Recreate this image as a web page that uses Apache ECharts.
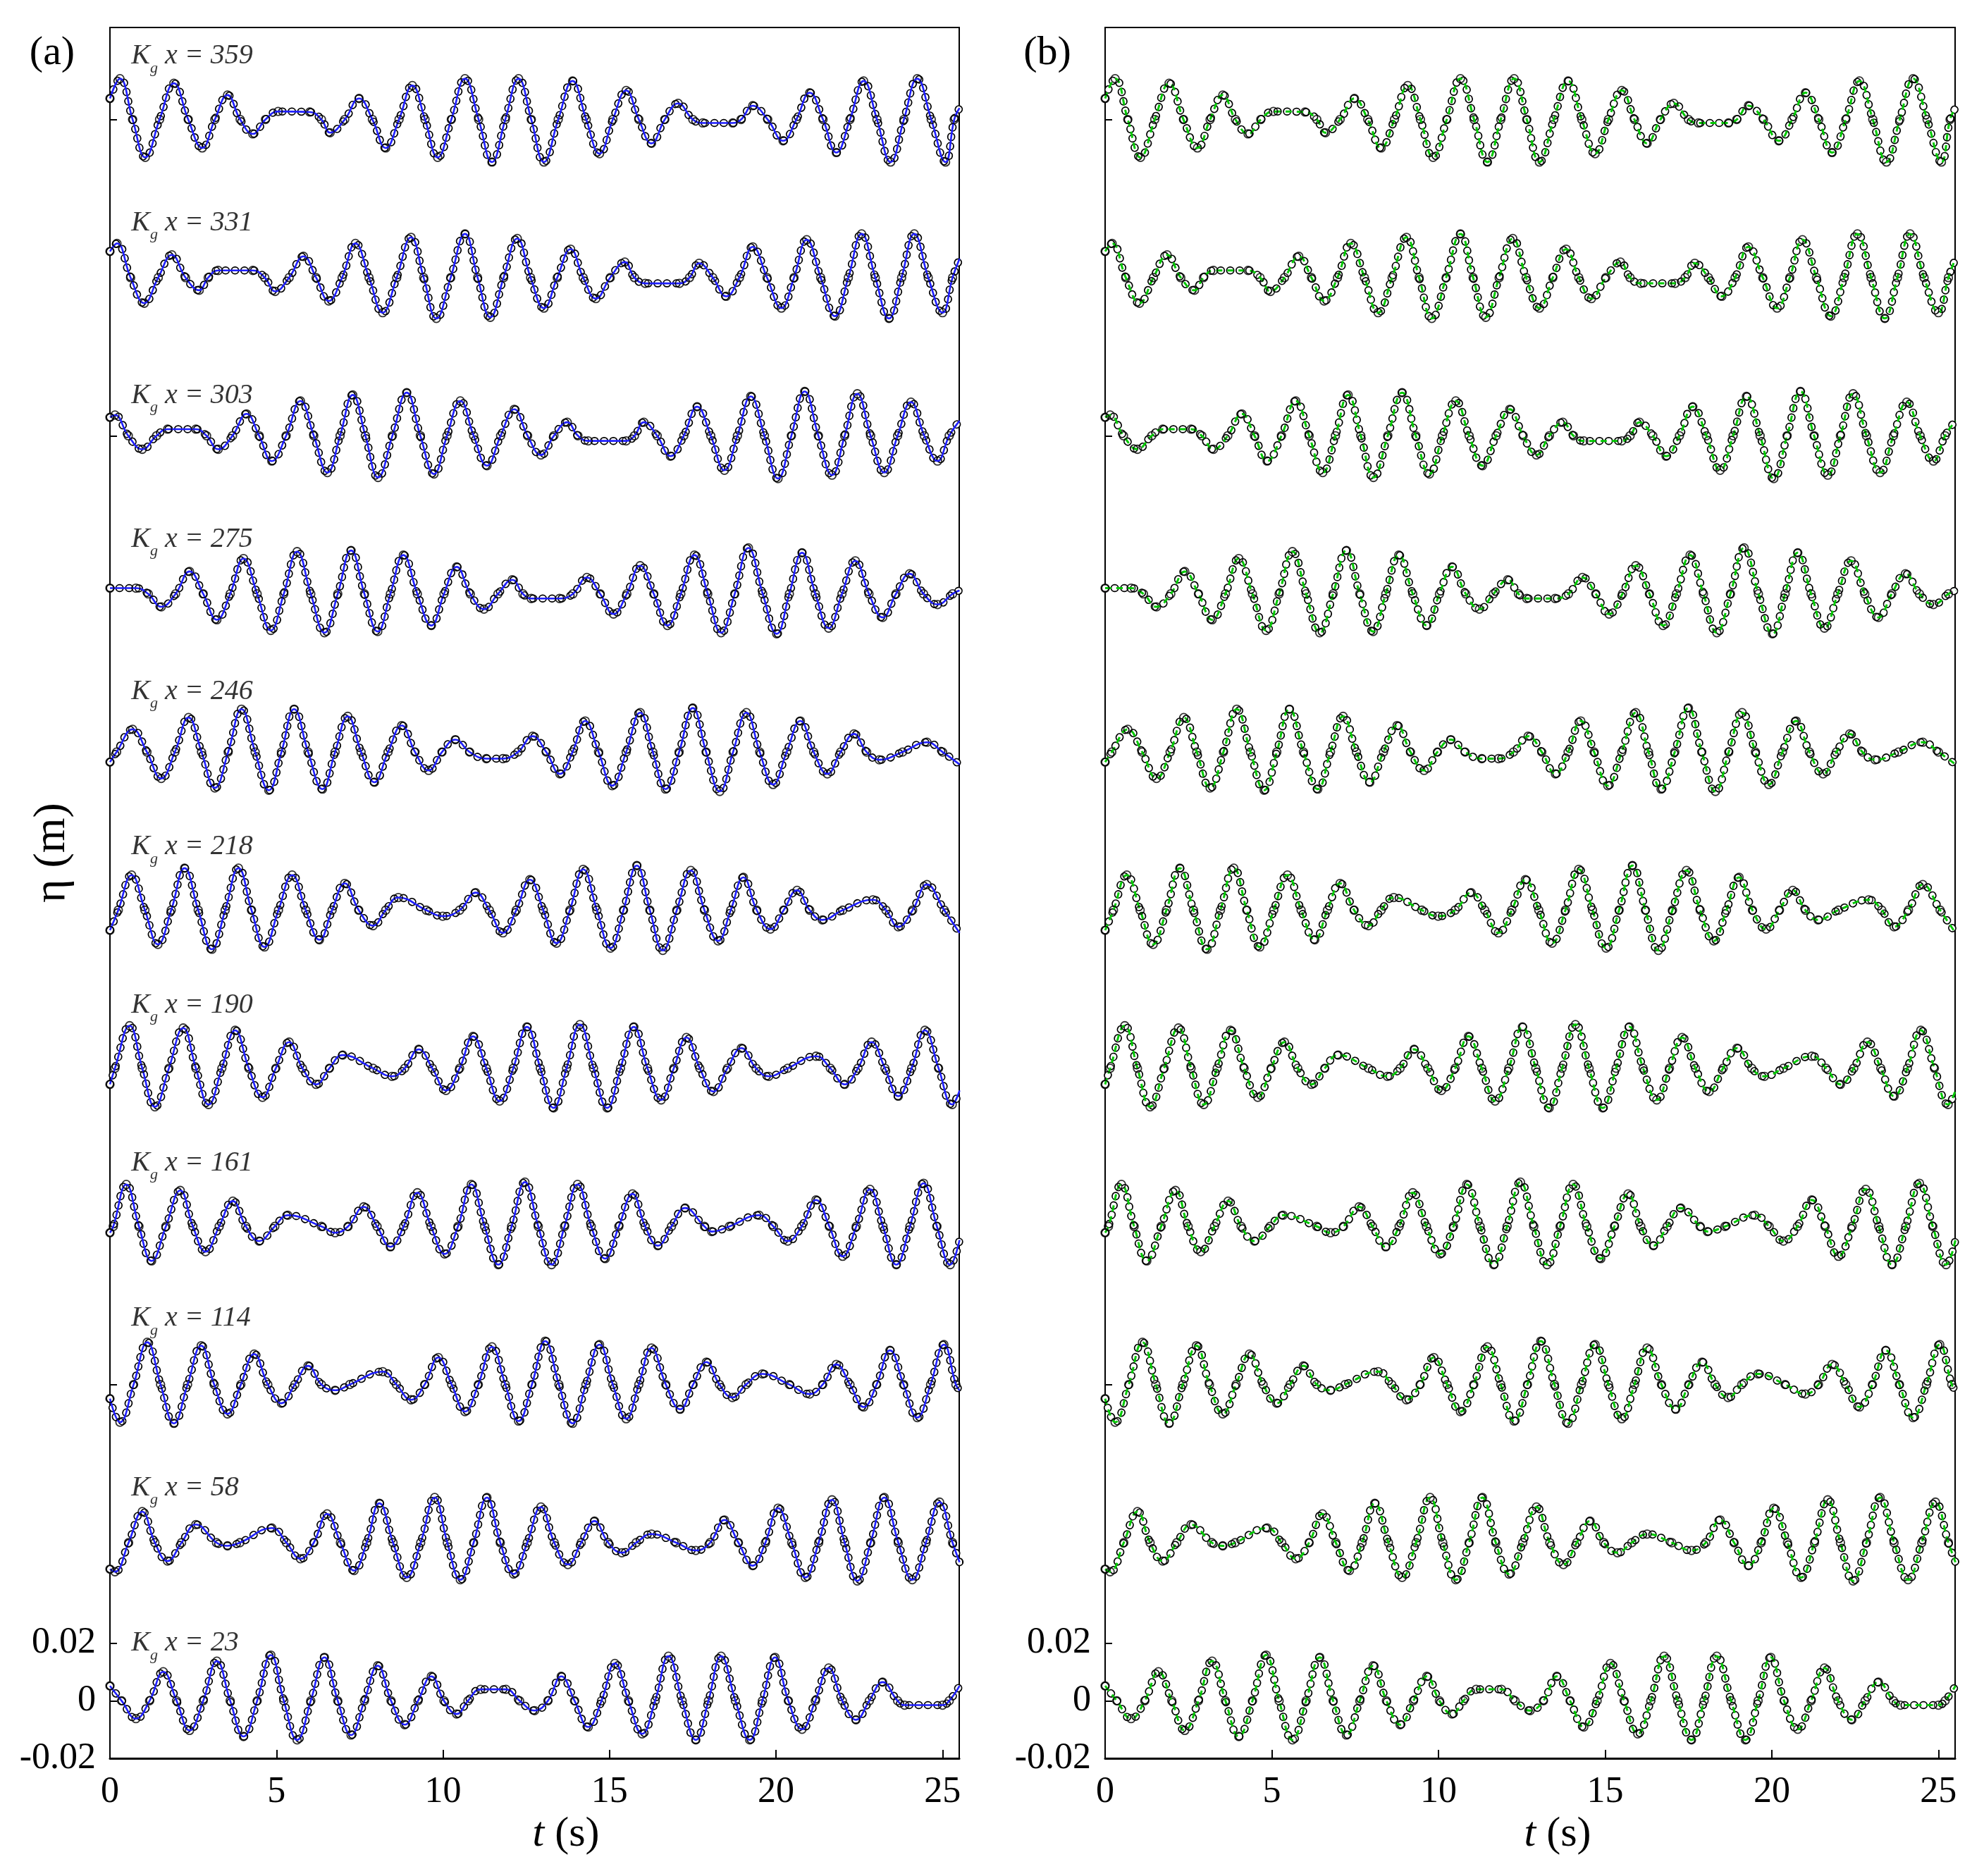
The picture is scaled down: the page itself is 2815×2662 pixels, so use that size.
<!DOCTYPE html>
<html>
<head>
<meta charset="utf-8">
<script src="https://cdn.jsdelivr.net/npm/echarts@6/dist/echarts.min.js"></script>
<style>
html,body{margin:0;padding:0;background:#fff;}
#c{width:2815px;height:2662px;}
</style>
</head>
<body>
<div id="c"></div>
<script>
// ---- data (surface elevation, mm) ----
const stations = [359, 331, 303, 275, 246, 218, 190, 161, 114, 58, 23];
const offsets  = [0.55, 0.495, 0.44, 0.385, 0.33, 0.275, 0.22, 0.165, 0.11, 0.055, 0];
const labelY   = [0.572, 0.514, 0.454, 0.404, 0.351, 0.297, 0.242, 0.187, 0.133, 0.074, 0.020];
const labelT   = 0.64;
const xTicks   = [0, 5, 10, 15, 20, 25];
const yLabels  = [-0.02, 0, 0.02];
const yTicks   = [-0.02, 0, 0.02, 0.11, 0.44, 0.55];

// extrema [t (s), eta (mm)]
const ext359 = [[0,7.3],[0.30,14.2],[1.06,-13.2],[1.92,12.6],[2.77,-9.9],[3.53,8.5],[4.29,-5.0],[5.05,2.8],[6.0,2.6],[6.61,-4.6],[7.48,7.3],[8.28,-9.9],[9.08,11.8],[9.84,-13.2],[10.66,14.2],[11.47,-14.8],[12.27,14.2],[13.03,-14.8],[13.89,13.4],[14.70,-11.9],[15.50,10.1],[16.26,-8.3],[17.06,5.6],[17.8,-1.2],[18.7,-1.2],[19.30,4.8],[20.21,-7.4],[21.01,9.3],[21.81,-11.5],[22.63,13.4],[23.44,-14.8],[24.24,14.2],[25.09,-14.8],[25.51,4.0]];
const ext331 = [[0,9.1],[0.21,11.9],[1.03,-8.9],[1.86,7.9],[2.68,-4.4],[3.25,2.5],[4.29,2.5],[4.96,-4.8],[5.81,7.4],[6.57,-8.1],[7.37,11.9],[8.19,-12.2],[9.04,14.0],[9.80,-14.2],[10.66,15.2],[11.42,-13.8],[12.23,13.6],[13.03,-10.6],[13.83,9.9],[14.59,-7.3],[15.46,5.4],[16.07,-2.0],[17.1,-2.0],[17.69,5.0],[18.50,-6.5],[19.30,10.7],[20.16,-10.6],[20.92,13.2],[21.77,-13.4],[22.57,15.2],[23.39,-14.2],[24.15,15.2],[25.0,-12.2],[25.51,6.6]];
const ext303 = [[0,6.4],[0.15,7.2],[0.97,-4.7],[1.73,2.3],[2.58,2.3],[3.25,-4.7],[4.10,7.6],[4.86,-8.8],[5.72,12.1],[6.53,-12.8],[7.29,14.2],[8.05,-14.5],[8.91,15.0],[9.73,-13.3],[10.52,12.1],[11.32,-10.4],[12.14,9.2],[12.94,-6.7],[13.73,4.7],[14.36,-1.8],[15.5,-1.8],[16.03,4.7],[16.83,-7.1],[17.63,10.1],[18.45,-12.0],[19.24,13.7],[20.06,-14.9],[20.86,15.4],[21.68,-13.7],[22.44,14.6],[23.25,-12.8],[24.05,11.7],[24.85,-8.8],[25.51,5.2]];
const ext275 = [[0,2.0],[0.78,2.0],[1.54,-4.5],[2.39,7.8],[3.21,-9.0],[4.01,12.3],[4.83,-12.7],[5.62,14.7],[6.44,-13.5],[7.24,15.1],[8.04,-13.1],[8.81,13.5],[9.65,-11.0],[10.41,9.4],[11.23,-5.3],[12.08,4.9],[12.65,-1.6],[13.5,-1.6],[14.32,5.7],[15.12,-7.0],[15.92,9.8],[16.74,-11.0],[17.55,13.5],[18.35,-13.5],[19.17,16.0],[20.02,-13.9],[20.78,14.3],[21.58,-11.9],[22.38,11.5],[23.20,-8.2],[24.01,7.0],[24.85,-3.7],[25.51,1.2]];
const ext246 = [[0,-3.5],[0.68,7.9],[1.54,-9.2],[2.36,12.0],[3.15,-12.5],[3.95,14.9],[4.77,-13.3],[5.53,14.9],[6.38,-12.9],[7.14,12.4],[7.94,-10.5],[8.76,9.2],[9.57,-6.4],[10.37,4.3],[11.3,-2.3],[11.8,-2.3],[12.69,5.5],[13.51,-7.6],[14.27,10.8],[15.08,-11.7],[15.92,13.7],[16.68,-12.9],[17.50,15.3],[18.31,-13.7],[19.11,13.7],[19.91,-11.3],[20.73,10.8],[21.54,-7.6],[22.34,6.3],[23.10,-2.7],[24.53,3.4],[25.51,-4.3]];
const ext218 = [[0,-7.0],[0.65,12.2],[1.44,-11.9],[2.24,14.6],[3.06,-13.6],[3.86,14.6],[4.64,-12.8],[5.47,12.2],[6.29,-10.3],[7.05,9.3],[7.90,-5.4],[8.66,4.4],[9.99,-2.1],[10.98,6.1],[11.80,-7.9],[12.61,10.6],[13.41,-11.5],[14.21,14.2],[15.03,-13.2],[15.82,15.5],[16.60,-14.0],[17.44,13.8],[18.26,-10.7],[19.02,11.4],[19.83,-6.6],[20.63,6.9],[21.39,-3.4],[22.91,3.6],[23.67,-5.8],[24.53,8.9],[25.51,-7.9]];
const ext190 = [[0,-5.6],[0.59,14.8],[1.35,-13.4],[2.20,14.0],[2.96,-12.6],[3.76,13.2],[4.58,-10.1],[5.38,9.1],[6.19,-5.6],[6.99,4.6],[8.47,-2.8],[9.27,6.6],[10.09,-7.7],[10.90,11.1],[11.70,-11.4],[12.52,14.4],[13.32,-13.8],[14.11,15.2],[14.93,-13.8],[15.73,14.4],[16.55,-11.0],[17.31,10.7],[18.12,-8.1],[18.96,7.0],[19.78,-2.8],[21.20,4.2],[22.06,-5.6],[22.87,9.1],[23.67,-9.7],[24.47,13.2],[25.29,-12.6],[25.51,-7.7]];
const ext161 = [[0,-2.2],[0.49,14.6],[1.25,-12.0],[2.11,12.5],[2.87,-8.8],[3.69,8.8],[4.48,-5.1],[5.34,3.9],[6.76,-2.2],[7.62,6.8],[8.42,-7.1],[9.23,11.7],[10.05,-9.6],[10.85,14.6],[11.66,-13.3],[12.46,15.4],[13.26,-13.3],[14.04,14.6],[14.87,-11.2],[15.69,11.3],[16.45,-6.7],[17.27,6.4],[18.07,-1.8],[19.49,3.9],[20.35,-5.1],[21.20,9.2],[22.0,-10.4],[22.82,12.9],[23.61,-13.3],[24.43,15.0],[25.23,-13.3],[25.51,-4.7]];
const ext114 = [[0,-4.9],[0.30,-13.1],[1.12,14.7],[1.92,-13.5],[2.74,13.5],[3.53,-10.2],[4.33,10.6],[5.15,-6.5],[5.95,6.5],[6.76,-2.0],[8.19,4.5],[9.04,-5.3],[9.86,9.4],[10.66,-9.4],[11.47,13.1],[12.27,-12.7],[13.07,15.1],[13.89,-13.5],[14.70,13.9],[15.50,-11.9],[16.26,12.7],[17.12,-8.6],[17.91,7.8],[18.69,-4.5],[19.59,3.7],[21.01,-3.3],[21.81,7.0],[22.63,-7.8],[23.42,11.9],[24.24,-11.5],[25.04,13.9],[25.51,-2.0]];
const ext58  = [[0,-9.2],[0.15,-10.1],[0.97,10.8],[1.73,-6.4],[2.58,6.3],[3.53,-1.1],[4.86,5.1],[5.72,-5.6],[6.52,10.0],[7.33,-9.7],[8.09,13.7],[8.91,-12.1],[9.75,15.7],[10.52,-12.9],[11.32,15.7],[12.12,-10.9],[12.94,12.4],[13.75,-7.6],[14.55,7.5],[15.37,-3.5],[16.26,3.0],[17.59,-2.7],[18.45,7.9],[19.30,-8.0],[20.06,12.0],[20.88,-12.1],[21.68,14.9],[22.44,-13.3],[23.25,15.7],[24.09,-12.9],[24.91,14.1],[25.51,-6.8]];
const ext23  = [[0,5.2],[0.78,-6.2],[1.60,10.1],[2.39,-10.3],[3.21,13.8],[4.01,-12.4],[4.83,15.9],[5.62,-13.6],[6.44,15.1],[7.24,-11.9],[8.04,12.2],[8.85,-8.3],[9.65,8.5],[10.41,-4.6],[11.13,4.0],[11.89,4.0],[12.75,-3.4],[13.55,8.5],[14.36,-9.1],[15.16,13.0],[15.98,-11.5],[16.77,15.5],[17.59,-13.6],[18.35,15.5],[19.21,-13.6],[19.97,15.1],[20.78,-9.9],[21.58,11.4],[22.40,-6.6],[23.20,6.5],[23.86,-1.5],[25.0,-1.5],[25.51,5.2]];

// times (s) where each record crosses its own mean level
const zc359 = [0.68,1.49,2.35,3.15,3.91,4.67,6.35,7.05,7.88,8.68,9.46,10.25,11.07,11.87,12.65,13.46,14.30,15.10,15.88,16.66,17.5,18.95,19.75,20.61,21.41,22.22,23.03,23.84,24.66,25.35];
const zc331 = [0.62,1.45,2.27,2.95,4.65,5.38,6.19,6.97,7.78,8.61,9.42,10.23,11.04,11.82,12.63,13.43,14.21,15.02,15.75,17.4,18.10,18.90,19.73,20.54,21.34,22.17,22.98,23.77,24.57,25.3];
const zc303 = [0.55,1.4,2.9,3.68,4.48,5.29,6.12,6.91,7.67,8.48,9.32,10.12,10.92,11.73,12.54,13.33,14.05,15.75,16.43,17.23,18.04,18.84,19.65,20.46,21.27,22.06,22.84,23.65,24.45,25.2];
const zc275 = [1.15,1.97,2.8,3.61,4.42,5.22,6.03,6.84,7.64,8.42,9.23,10.03,10.82,11.65,12.4,13.9,14.72,15.52,16.33,17.14,17.95,18.76,19.6,20.4,21.18,21.98,22.79,23.6,24.43,25.3];
const zc246 = [0.2,1.11,1.95,2.75,3.55,4.36,5.15,5.95,6.76,7.54,8.35,9.16,9.97,10.8,12.25,13.1,13.89,14.67,15.5,16.3,17.09,17.9,18.71,19.51,20.32,21.13,21.94,22.72,23.8,25.0];
const zc218 = [0.25,1.05,1.84,2.65,3.46,4.25,5.06,5.88,6.67,7.47,8.28,9.5,10.5,11.39,12.2,13.01,13.81,14.62,15.42,16.21,17.02,17.85,18.64,19.42,20.23,21.01,22.0,23.3,24.1,25.05];
const zc190 = [0.15,0.97,1.77,2.58,3.36,4.17,4.98,5.78,6.59,7.9,8.85,9.68,10.5,11.3,12.11,12.92,13.71,14.52,15.33,16.14,16.93,17.71,18.54,19.4,20.35,21.63,22.46,23.27,24.07,24.88];
const zc161 = [0.1,0.87,1.68,2.49,3.28,4.08,4.95,6.35,7.15,8.02,8.82,9.64,10.45,11.25,12.06,12.86,13.65,14.45,15.28,16.07,16.86,17.85,18.6,19.92,20.77,21.6,22.41,23.21,24.02,24.83];
const zc114 = [0.71,1.52,2.33,3.13,3.93,4.74,5.55,6.35,7.2,8.6,9.45,10.26,11.06,11.87,12.67,13.48,14.29,15.1,15.88,16.69,17.51,18.3,19.1,20.4,21.4,22.22,23.02,23.83,24.64,25.4];
const zc58  = [0.56,1.35,2.15,3.2,3.9,5.3,6.12,6.92,7.71,8.5,9.33,10.13,10.92,11.72,12.53,13.34,14.15,14.96,15.8,17.0,18.02,18.87,19.68,20.47,21.28,22.06,22.84,23.67,24.5,25.3];
const zc23  = [0.35,1.19,2.0,2.8,3.61,4.42,5.22,6.03,6.84,7.64,8.44,9.25,10.03,10.75,12.3,13.15,13.95,14.76,15.57,16.37,17.18,17.97,18.78,19.59,20.37,21.18,21.99,22.8,23.65,25.2];

const extrema  = [ext359, ext331, ext303, ext275, ext246, ext218, ext190, ext161, ext114, ext58, ext23];
const crossing = [zc359, zc331, zc303, zc275, zc246, zc218, zc190, zc161, zc114, zc58, zc23];

// ---- chart ----
const FONT = '"Liberation Serif", "Times New Roman", serif';
const chart = echarts.init(document.getElementById('c'), null, {renderer: 'canvas'});

function tracePoints(i) {
  const pts = extrema[i].concat(crossing[i].map(t => [t, 0]));
  pts.sort((a, b) => a[0] - b[0]);
  return pts.map(p => [p[0], offsets[i] + p[1] / 1000]);
}

const grids = [
  {left: 156, top: 39, width: 1205, height: 2456},
  {left: 1568, top: 39, width: 1206, height: 2456}
];

const xAxes = grids.map((g, p) => ({
  type: 'value', gridIndex: p, min: 0, max: 25.5,
  axisLine: {show: true, onZero: false, lineStyle: {color: '#000', width: 3}},
  axisTick: {show: true, inside: true, length: 12, customValues: xTicks, lineStyle: {color: '#000', width: 2}},
  axisLabel: {show: true, customValues: xTicks, color: '#000', fontFamily: FONT, fontSize: 52, margin: 22},
  splitLine: {show: false}
}));

const yAxes = grids.map((g, p) => ({
  type: 'value', gridIndex: p, min: -0.02, max: 0.582,
  axisLine: {show: true, onZero: false, lineStyle: {color: '#000', width: 2}},
  axisTick: {show: true, inside: true, length: 10, customValues: yTicks, lineStyle: {color: '#000', width: 2}},
  axisLabel: {show: true, customValues: yLabels, color: '#000', fontFamily: FONT, fontSize: 52, margin: 20,
    formatter: v => (Math.abs(v) < 1e-9 ? '0' : v.toFixed(2))},
  splitLine: {show: false}
}));

const SM = 0.45;
const DOTS = [0.5, 13];
const series = [];
for (let p = 0; p < 2; p++) {
  for (let i = 0; i < stations.length; i++) {
    const pts = tracePoints(i);
    // ring chain along the record (outline + hollow centre)
    series.push({
      type: 'line', xAxisIndex: p, yAxisIndex: p, data: pts, smooth: SM,
      showSymbol: false, silent: true, z: 1,
      lineStyle: {color: '#000', width: 11.5, type: DOTS, cap: 'round'}
    });
    series.push({
      type: 'line', xAxisIndex: p, yAxisIndex: p, data: pts, smooth: SM,
      showSymbol: false, silent: true, z: 2,
      lineStyle: {color: '#fff', width: 8, type: DOTS, cap: 'round'}
    });
    // model curve
    series.push({
      type: 'line', xAxisIndex: p, yAxisIndex: p, data: pts,
      smooth: SM, showSymbol: false, silent: true, z: 3,
      lineStyle: p === 0
        ? {color: '#1f1fff', width: 2.6, type: 'solid'}
        : {color: '#00c800', width: 3, type: [9, 7]}
    });
    // measured points
    series.push({
      type: 'scatter', xAxisIndex: p, yAxisIndex: p, data: pts,
      symbol: 'circle', symbolSize: 11.5, silent: true, z: 4,
      itemStyle: {color: 'rgba(0,0,0,0)', borderColor: '#000', borderWidth: 1.8}
    });
  }
}
// station labels in panel (a)
for (let i = 0; i < stations.length; i++) {
  series.push({
    type: 'scatter', xAxisIndex: 0, yAxisIndex: 0, silent: true, z: 6,
    data: [[labelT, labelY[i]]], symbolSize: 0,
    label: {
      show: true, position: 'right', distance: 0,
      formatter: '{k|K}{s|g}{k| x = ' + stations[i] + '}',
      rich: {
        k: {fontFamily: FONT, fontStyle: 'italic', fontSize: 40, color: '#000', lineHeight: 56},
        s: {fontFamily: FONT, fontStyle: 'italic', fontSize: 22, color: '#000', lineHeight: 22, verticalAlign: 'bottom'}
      }
    }
  });
}

chart.setOption({
  animation: false,
  backgroundColor: '#fff',
  grid: grids.map(g => Object.assign({show: true, borderColor: '#000', borderWidth: 2, backgroundColor: 'transparent'}, g)),
  xAxis: xAxes,
  yAxis: yAxes,
  series: series,
  graphic: [
    {type: 'text', x: 74, y: 76, style: {text: '(a)', font: '58px ' + FONT, fill: '#000', textAlign: 'center', textVerticalAlign: 'middle'}},
    {type: 'text', x: 1486, y: 76, style: {text: '(b)', font: '58px ' + FONT, fill: '#000', textAlign: 'center', textVerticalAlign: 'middle'}},
    {type: 'text', x: 74, y: 1210, rotation: Math.PI / 2,
      style: {text: 'η (m)', font: '64px ' + FONT, fill: '#000', textAlign: 'center', textVerticalAlign: 'middle'}},
    {type: 'text', x: 803, y: 2603,
      style: {text: '{i|t} (s)', font: '60px ' + FONT, fill: '#000', textAlign: 'center', textVerticalAlign: 'middle',
        rich: {i: {fontFamily: FONT, fontStyle: 'italic', fontSize: 60}}}},
    {type: 'text', x: 2210, y: 2603,
      style: {text: '{i|t} (s)', font: '60px ' + FONT, fill: '#000', textAlign: 'center', textVerticalAlign: 'middle',
        rich: {i: {fontFamily: FONT, fontStyle: 'italic', fontSize: 60}}}}
  ]
});
</script>
</body>
</html>
